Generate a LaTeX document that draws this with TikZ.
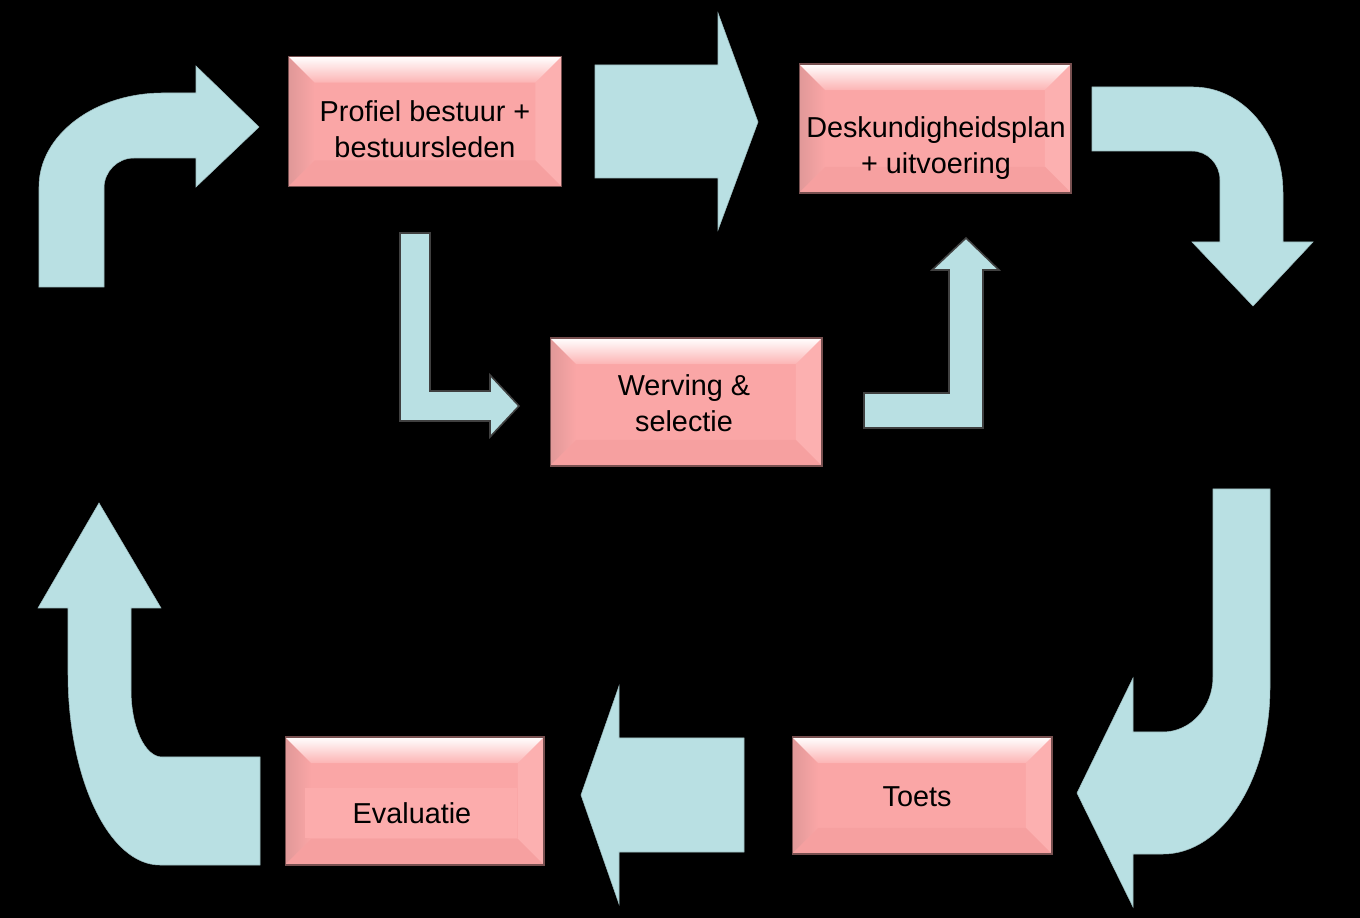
\documentclass[tikz,border=0pt]{standalone}
\usepackage{fontspec}
\setmainfont{Liberation Sans}
\usetikzlibrary{calc}
\definecolor{flowblue}{RGB}{185,224,227}
\definecolor{pinkbase}{RGB}{250,166,166}
\definecolor{pinkleft}{RGB}{224,152,152}
\definecolor{pinkright}{RGB}{252,176,176}
\definecolor{pinkbottom}{RGB}{246,160,160}
\definecolor{pinktopA}{RGB}{255,255,255}
\definecolor{pinktopB}{RGB}{252,180,180}
\definecolor{pinkedge}{RGB}{120,80,80}
\definecolor{pinkinner}{RGB}{252,172,172}
\newlength{\bevw}\setlength{\bevw}{0.52cm}
\newcommand{\bevelfaces}{%
\coordinate (bnw) at (path picture bounding box.north west);
\coordinate (bne) at (path picture bounding box.north east);
\coordinate (bsw) at (path picture bounding box.south west);
\coordinate (bse) at (path picture bounding box.south east);
\shade[left color=pinkleft,right color=pinkbase] (bnw) -- ($(bnw)+(\bevw,-\bevw)$) -- ($(bsw)+(\bevw,\bevw)$) -- (bsw) -- cycle;
\fill[pinkright] (bne) -- ($(bne)+(-\bevw,-\bevw)$) -- ($(bse)+(-\bevw,\bevw)$) -- (bse) -- cycle;
\fill[pinkbottom] (bsw) -- ($(bsw)+(\bevw,\bevw)$) -- ($(bse)+(-\bevw,\bevw)$) -- (bse) -- cycle;
\shade[top color=pinktopA,bottom color=pinktopB] (bnw) -- (bne) -- ($(bne)+(-\bevw,-\bevw)$) -- ($(bnw)+(\bevw,-\bevw)$) -- cycle;}
\tikzset{
flow/.style={fill=flowblue,draw=flowblue!85!black,line width=0.3pt},
flowline/.style={fill=flowblue,draw=black!75,line width=0.9pt},
bevelbox/.style={rectangle,fill=pinkbase,draw=pinkedge,line width=0.6pt,inner sep=0pt,path picture={\bevelfaces}},
boxtext/.style={font=\fontsize{16.4}{20.4}\selectfont,align=center,text=black,inner sep=0pt}
}

\begin{document}
\begin{tikzpicture}[x=0.02cm,y=-0.02cm]
\fill[black] (0,0) rectangle (1360,918);
\useasboundingbox (0,0) rectangle (1360,918);

\fill[flow] (39,287) -- (39,187) arc[start angle=180,end angle=270,x radius=124,y radius=94] -- (196,93) -- (196,66) -- (259,127) -- (196,187) -- (196,158) -- (134,158) arc[start angle=270,end angle=180,x radius=30,y radius=30] -- (104,287) -- cycle;
\filldraw[flow] (595,65) -- (718,65) -- (718,13) -- (758,122) -- (718,230) -- (718,178) -- (595,178) -- cycle;
\filldraw[flow] (1092,87) -- (1193,87) arc[start angle=270,end angle=360,x radius=90,y radius=106] -- (1283,242) -- (1313,242) -- (1253,306) -- (1192,242) -- (1220,242) -- (1220,180) arc[start angle=0,end angle=-90,x radius=28,y radius=29] -- (1092,151) -- cycle;
\filldraw[flowline] (400,233) -- (430,233) -- (430,391) -- (490,391) -- (490,375) -- (519,406) -- (490,437) -- (490,421) -- (400,421) -- cycle;
\filldraw[flowline] (864,393) -- (949,393) -- (949,270) -- (932,270) -- (966,238) -- (999,270) -- (983,270) -- (983,428) -- (864,428) -- cycle;
\filldraw[flow] (1213,489) -- (1270,489) -- (1270,687) arc[start angle=0,end angle=90,x radius=107,y radius=167] -- (1133,854) -- (1133,907) -- (1077,793) -- (1133,678) -- (1133,732) -- (1163,732) arc[start angle=90,end angle=0,x radius=50,y radius=55] -- cycle;
\filldraw[flow] (744,738) -- (619,738) -- (619,686) -- (581,795) -- (619,904) -- (619,852) -- (744,852) -- cycle;
\filldraw[flow] (260,865) -- (160,865) arc[start angle=90,end angle=180,x radius=92,y radius=192] -- (68,608) -- (38,608) -- (99,503) -- (161,608) -- (131,608) -- (131,690) arc[start angle=180,end angle=90,x radius=31,y radius=67] -- (260,757) -- cycle;

\node[bevelbox,minimum width=5.46cm,minimum height=2.6cm] (profiel) at (425,121.5) {};
\node[bevelbox,minimum width=5.44cm,minimum height=2.58cm] (deskundig) at (935,128.5) {};
\node[bevelbox,minimum width=5.44cm,minimum height=2.56cm] (werving) at (686,402) {};
\node[bevelbox,minimum width=5.2cm,minimum height=2.34cm] (toets) at (922,795.5) {};
\node[bevelbox,minimum width=5.18cm,minimum height=2.56cm] (evaluatie) at (414.5,801) {};
\fill[pinkinner] (305,788) rectangle (517,838);

\node[boxtext] (profiel-t) at (425,129) {Profiel bestuur +\\bestuursleden};
\node[boxtext] (deskundig-t) at (936,148) {Deskundigheidsplan\\+ uitvoering};
\node[boxtext] (werving-t) at (684,403) {Werving \&\\selectie};
\node[boxtext] (toets-t) at (917,797) {Toets};
\node[boxtext] (evaluatie-t) at (412,813) {Evaluatie};
\end{tikzpicture}
\end{document}
